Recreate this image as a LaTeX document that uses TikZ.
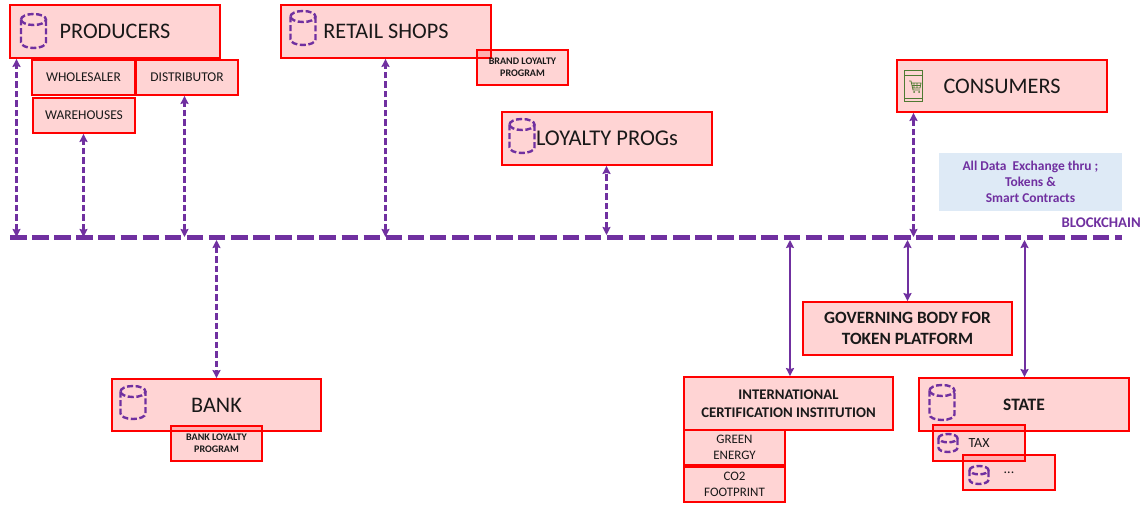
\documentclass[tikz,border=0pt]{standalone}
\usepackage{fontspec}
\setmainfont{Carlito}
\usetikzlibrary{arrows.meta}
\definecolor{pur}{HTML}{7030A0}
\definecolor{pgreen}{HTML}{4F7A32}
\definecolor{pblue}{HTML}{DEEAF6}
\tikzset{
  x=1bp,y=-1bp,
  boxn/.style={draw=red,line width=1.8bp,fill=red,fill opacity=0.17,draw opacity=1,text opacity=1,inner sep=0pt,align=center,text=black!90},
  chain/.style={draw=pur,line width=5bp,dash pattern=on 16.5bp off 5.6bp},
  linkd/.style={draw=pur,line width=2.4bp,dash pattern=on 6.5bp off 3bp,{Stealth[length=8bp,width=8bp,inset=1bp]}-{Stealth[length=8bp,width=8bp,inset=1bp]}},
  links/.style={draw=pur,line width=2bp,{Stealth[length=8bp,width=8bp,inset=1bp]}-{Stealth[length=8bp,width=8bp,inset=1bp]}},
  cyl/.style={draw=pur,line width=2.4bp,dash pattern=on 6bp off 2.6bp},
}
% \mybox{name}{x1}{y1}{x2}{y2}{font}{text}
\newcommand{\mybox}[7]{%
  \node[boxn,font=#6,minimum width=#4bp-#2bp,minimum height=#5bp-#3bp] (#1) at ({(#2+#4)/2},{(#3+#5)/2}) {#7};
}
% \myicon{cx}{top}{w}{h}
\newcommand{\myicon}[4]{%
  \draw[cyl] ({#1-#3/2},{#2+#3*0.22}) arc[start angle=180,end angle=-180,x radius=#3/2,y radius=-#3*0.22];
  \draw[cyl] ({#1-#3/2},{#2+#3*0.22}) -- ({#1-#3/2},{#2+#4-#3*0.22}) arc[start angle=180,end angle=360,x radius=#3/2,y radius=-#3*0.22] -- ({#1+#3/2},{#2+#3*0.22});
}
\begin{document}
\begin{tikzpicture}
\useasboundingbox (0,0) rectangle (1148,506);
\fill[white] (0,0) rectangle (1148,506);
% blockchain
\coordinate (bcL) at (10,237.5);
\coordinate (bcR) at (1122,237.5);
\draw[chain] (bcL) -- (bcR);
\node[text=pur,font=\fontsize{14.8}{16}\selectfont\bfseries,anchor=east,inner sep=0pt] (bclabel) at (1141,223) {BLOCKCHAIN};
% boxes
\mybox{prod}{10}{5}{220}{58}{\fontsize{22.3}{24}\selectfont}{PRODUCERS}
\mybox{whole}{32}{60}{135}{95}{\fontsize{13.5}{15}\selectfont}{WHOLESALER}
\mybox{dist}{136}{60}{238}{95}{\fontsize{13.5}{15}\selectfont}{DISTRIBUTOR}
\mybox{ware}{33}{98}{135}{133}{\fontsize{13.5}{15}\selectfont}{WAREHOUSES}
\mybox{retail}{281}{5}{491}{58}{\fontsize{22.3}{24}\selectfont}{RETAIL SHOPS}
\mybox{brand}{477}{50}{568}{85}{\fontsize{10.1}{12.5}\selectfont\bfseries}{BRAND LOYALTY\\PROGRAM}
\mybox{loyal}{502}{112}{712}{165}{\fontsize{22.6}{24}\selectfont}{LOYALTY PROGs}
\mybox{cons}{897}{60}{1107}{112}{\fontsize{22.3}{24}\selectfont}{CONSUMERS}
\node[fill=pblue,minimum width=183bp,minimum height=58bp,inner sep=0pt,align=center,text=pur,font=\fontsize{13.5}{16.2}\selectfont\bfseries] (info) at (1030.5,182) {All Data\ \ Exchange thru ;\\Tokens \&\\Smart Contracts};
\mybox{gov}{803}{302}{1012}{355}{\fontsize{17.3}{21.5}\selectfont\bfseries}{GOVERNING BODY FOR\\TOKEN PLATFORM}
\mybox{bank}{112}{379}{321}{431}{\fontsize{22.3}{24}\selectfont}{BANK}
\mybox{bankl}{171}{426}{262}{461}{\fontsize{10.1}{12.5}\selectfont\bfseries}{BANK LOYALTY\\PROGRAM}
\mybox{intl}{684}{377}{893}{430}{\fontsize{14.8}{18}\selectfont\bfseries}{INTERNATIONAL\\CERTIFICATION INSTITUTION}
\mybox{green}{684}{430}{785}{465}{\fontsize{13}{16.5}\selectfont}{GREEN\\ENERGY}
\mybox{co}{684}{467}{785}{502}{\fontsize{13}{16.5}\selectfont}{CO2\\FOOTPRINT}
\mybox{state}{919}{378}{1129}{431}{\fontsize{17.5}{19}\selectfont\bfseries}{STATE}
\mybox{tax}{933}{425}{1025}{461}{\fontsize{14}{16}\selectfont}{TAX}
\mybox{more}{963}{455}{1055}{490}{\fontsize{14}{16}\selectfont}{...}
% icons
\myicon{33.5}{14}{25}{34}
\myicon{303}{11}{25}{34}
\myicon{522}{119}{25}{34}
\myicon{133}{386}{25}{33}
\myicon{942}{385}{25}{35}
\myicon{948}{434}{19}{18}
\myicon{979}{466}{19}{18}
% phone icon
\draw[pgreen,line width=1bp] (904.5,71) rectangle (922.5,102);
\draw[pgreen,line width=.8bp] (904.5,75) -- (922.5,75) (904.5,98) -- (922.5,98);
\draw[pgreen,line width=.8bp] (909,81) -- (911,81) -- (913,90) -- (920,90) (911.5,83) -- (921,83) -- (920,88) -- (912.5,88) (914,83) -- (914,88) (917,83) -- (917,88) (912,85.5) -- (920.5,85.5);
\fill[pgreen] (914,92) circle (1bp) (919,92) circle (1bp);
% connectors
\coordinate (c1) at (16.5,237);
\coordinate (c2) at (83.5,237);
\coordinate (c3) at (184.5,237);
\coordinate (c4) at (385.5,237);
\coordinate (c5) at (606.5,235);
\coordinate (c6) at (913.5,237);
\coordinate (c7) at (216.5,240);
\coordinate (c8) at (790,240);
\coordinate (c9) at (907.5,240);
\coordinate (c10) at (1024.5,240);
\draw[linkd] (c1) -- (c1 |- prod.south);
\draw[linkd] (c2) -- (c2 |- ware.south);
\draw[linkd] (c3) -- (c3 |- dist.south);
\draw[linkd] (c4) -- (c4 |- retail.south);
\draw[linkd] (c5) -- (c5 |- loyal.south);
\draw[linkd] (c6) -- (c6 |- cons.south);
\draw[linkd] (c7) -- (c7 |- bank.north);
\draw[links] (c8) -- (c8 |- intl.north);
\draw[links] (c9) -- (c9 |- gov.north);
\draw[links] (c10) -- (c10 |- state.north);
\end{tikzpicture}
\end{document}
